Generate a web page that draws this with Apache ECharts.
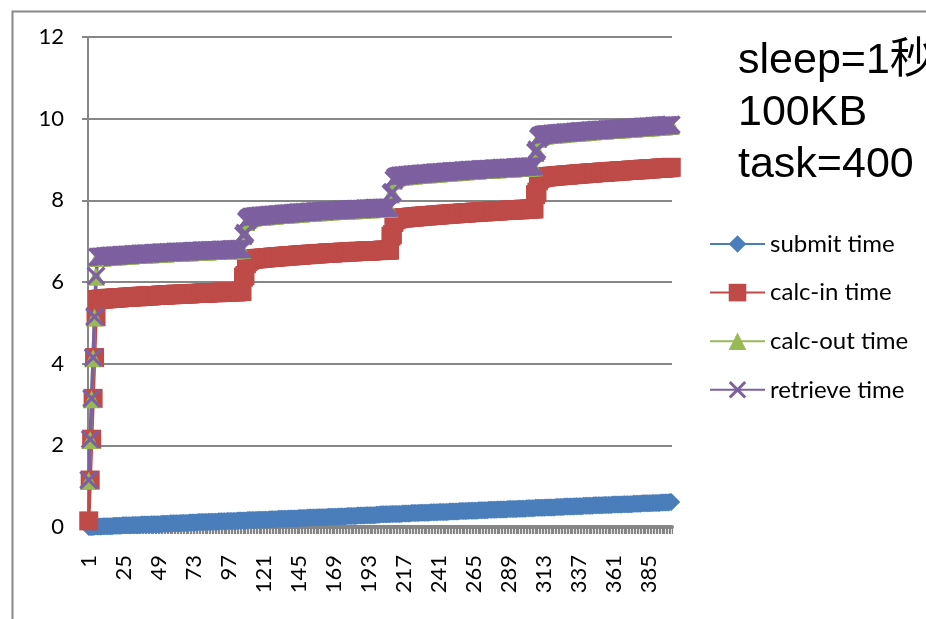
<!DOCTYPE html>
<html>
<head>
<meta charset="utf-8">
<script src="https://cdn.jsdelivr.net/npm/echarts@6/dist/echarts.min.js"></script>
<style>
  html, body { margin: 0; padding: 0; background: #fff; }
  #chart { width: 926px; height: 619px; }
</style>
</head>
<body>
<div id="chart"></div>
<script>
// Task numbers 1..400 on the category axis
const categories = Array.from({ length: 400 }, (_, i) => String(i + 1));
const tickLabels = ['1', '25', '49', '73', '97', '121', '145', '169', '193', '217',
  '241', '265', '289', '313', '337', '361', '385'];
const seriesNames = ['submit time', 'calc-in time', 'calc-out time', 'retrieve time'];
const noteLines = ['sleep=1秒', '100KB', 'task=400'];

// Elapsed seconds per task
const submitTime = [
  0.00,0.00,0.00,0.00,0.01,0.01,0.01,0.01,0.01,0.01,
  0.02,0.02,0.02,0.02,0.02,0.02,0.02,0.03,0.03,0.03,
  0.03,0.03,0.03,0.04,0.04,0.04,0.04,0.04,0.04,0.04,
  0.05,0.05,0.05,0.05,0.05,0.05,0.06,0.06,0.06,0.06,
  0.06,0.06,0.06,0.07,0.07,0.07,0.07,0.07,0.07,0.07,
  0.08,0.08,0.08,0.08,0.08,0.08,0.09,0.09,0.09,0.09,
  0.09,0.09,0.09,0.10,0.10,0.10,0.10,0.10,0.10,0.11,
  0.11,0.11,0.11,0.11,0.11,0.12,0.12,0.12,0.12,0.12,
  0.12,0.12,0.13,0.13,0.13,0.13,0.13,0.13,0.13,0.14,
  0.14,0.14,0.14,0.14,0.14,0.15,0.15,0.15,0.15,0.15,
  0.15,0.15,0.16,0.16,0.16,0.16,0.16,0.16,0.16,0.17,
  0.17,0.17,0.17,0.17,0.17,0.17,0.18,0.18,0.18,0.18,
  0.18,0.18,0.18,0.18,0.19,0.19,0.19,0.19,0.19,0.19,
  0.20,0.20,0.20,0.20,0.20,0.20,0.20,0.21,0.21,0.21,
  0.21,0.21,0.21,0.21,0.22,0.22,0.22,0.22,0.22,0.22,
  0.23,0.23,0.23,0.23,0.23,0.23,0.23,0.24,0.24,0.24,
  0.24,0.24,0.24,0.24,0.25,0.25,0.25,0.25,0.25,0.25,
  0.25,0.26,0.26,0.26,0.26,0.26,0.26,0.27,0.27,0.27,
  0.27,0.27,0.27,0.27,0.28,0.28,0.28,0.28,0.28,0.28,
  0.29,0.29,0.29,0.29,0.29,0.29,0.29,0.30,0.30,0.30,
  0.31,0.31,0.31,0.31,0.31,0.31,0.31,0.32,0.32,0.32,
  0.32,0.32,0.32,0.32,0.32,0.33,0.33,0.33,0.33,0.33,
  0.33,0.34,0.34,0.34,0.34,0.34,0.34,0.35,0.35,0.35,
  0.35,0.35,0.35,0.35,0.36,0.36,0.36,0.36,0.36,0.36,
  0.37,0.37,0.37,0.37,0.37,0.37,0.37,0.38,0.38,0.38,
  0.38,0.38,0.38,0.38,0.39,0.39,0.39,0.39,0.39,0.39,
  0.40,0.40,0.40,0.40,0.40,0.40,0.40,0.41,0.41,0.41,
  0.41,0.41,0.41,0.41,0.42,0.42,0.42,0.42,0.42,0.42,
  0.43,0.43,0.43,0.43,0.43,0.43,0.43,0.44,0.44,0.44,
  0.44,0.44,0.44,0.44,0.45,0.45,0.45,0.45,0.45,0.45,
  0.46,0.46,0.46,0.46,0.46,0.46,0.47,0.47,0.47,0.47,
  0.47,0.47,0.47,0.48,0.48,0.48,0.48,0.48,0.48,0.48,
  0.49,0.49,0.49,0.49,0.49,0.49,0.50,0.50,0.50,0.50,
  0.50,0.50,0.50,0.51,0.51,0.51,0.51,0.51,0.51,0.52,
  0.52,0.52,0.52,0.52,0.52,0.52,0.53,0.53,0.53,0.53,
  0.53,0.53,0.53,0.54,0.54,0.54,0.54,0.54,0.54,0.55,
  0.55,0.55,0.55,0.55,0.55,0.55,0.56,0.56,0.56,0.56,
  0.56,0.56,0.56,0.57,0.57,0.57,0.57,0.57,0.57,0.58,
  0.58,0.58,0.58,0.58,0.58,0.58,0.59,0.59,0.59,0.59,
  0.59,0.59,0.60,0.60,0.60,0.60,0.60,0.60,0.61,0.61
];

const calcInTime = [
  0.15,1.15,2.15,3.15,4.15,5.15,5.57,5.57,5.58,5.58,
  5.58,5.59,5.59,5.59,5.60,5.60,5.60,5.60,5.61,5.61,
  5.61,5.61,5.62,5.62,5.62,5.62,5.63,5.63,5.63,5.63,
  5.64,5.64,5.64,5.64,5.64,5.65,5.65,5.65,5.65,5.66,
  5.66,5.66,5.66,5.66,5.67,5.67,5.67,5.67,5.67,5.68,
  5.68,5.68,5.68,5.68,5.69,5.69,5.69,5.69,5.69,5.70,
  5.70,5.70,5.70,5.70,5.70,5.71,5.71,5.71,5.71,5.71,
  5.71,5.72,5.72,5.72,5.72,5.72,5.72,5.73,5.73,5.73,
  5.73,5.73,5.73,5.74,5.74,5.74,5.74,5.74,5.74,5.74,
  5.75,5.75,5.75,5.75,5.75,5.75,5.75,5.76,5.76,5.76,
  5.76,5.76,5.76,5.77,5.77,5.77,6.12,6.16,6.45,6.50,
  6.53,6.55,6.56,6.56,6.57,6.57,6.57,6.58,6.58,6.58,
  6.59,6.59,6.59,6.60,6.60,6.60,6.61,6.61,6.61,6.62,
  6.62,6.62,6.62,6.63,6.63,6.63,6.64,6.64,6.64,6.64,
  6.65,6.65,6.65,6.66,6.66,6.66,6.66,6.67,6.67,6.67,
  6.67,6.68,6.68,6.68,6.68,6.69,6.69,6.69,6.69,6.70,
  6.70,6.70,6.70,6.71,6.71,6.71,6.71,6.71,6.72,6.72,
  6.72,6.72,6.72,6.73,6.73,6.73,6.73,6.73,6.74,6.74,
  6.74,6.74,6.74,6.75,6.75,6.75,6.75,6.75,6.75,6.76,
  6.76,6.76,6.76,6.76,6.76,6.77,6.77,6.77,6.77,6.77,
  6.77,6.78,6.78,6.78,6.78,6.78,6.78,7.12,7.16,7.46,
  7.52,7.54,7.55,7.56,7.56,7.57,7.57,7.57,7.58,7.58,
  7.58,7.59,7.59,7.59,7.60,7.60,7.60,7.61,7.61,7.61,
  7.62,7.62,7.62,7.62,7.63,7.63,7.63,7.64,7.64,7.64,
  7.64,7.65,7.65,7.65,7.66,7.66,7.66,7.66,7.67,7.67,
  7.67,7.67,7.68,7.68,7.68,7.68,7.69,7.69,7.69,7.69,
  7.70,7.70,7.70,7.70,7.71,7.71,7.71,7.71,7.72,7.72,
  7.72,7.72,7.72,7.73,7.73,7.73,7.73,7.74,7.74,7.74,
  7.74,7.74,7.75,7.75,7.75,7.75,7.75,7.76,7.76,7.76,
  7.76,7.76,7.77,7.77,7.77,7.77,7.77,7.78,7.78,7.78,
  7.78,7.78,7.79,7.79,7.79,7.79,8.14,8.20,8.48,8.53,
  8.55,8.56,8.57,8.57,8.58,8.58,8.58,8.59,8.59,8.59,
  8.60,8.60,8.60,8.61,8.61,8.61,8.62,8.62,8.62,8.62,
  8.63,8.63,8.63,8.64,8.64,8.64,8.65,8.65,8.65,8.65,
  8.66,8.66,8.66,8.67,8.67,8.67,8.67,8.68,8.68,8.68,
  8.68,8.69,8.69,8.69,8.69,8.70,8.70,8.70,8.70,8.71,
  8.71,8.71,8.71,8.72,8.72,8.72,8.72,8.73,8.73,8.73,
  8.73,8.74,8.74,8.74,8.74,8.75,8.75,8.75,8.75,8.76,
  8.76,8.76,8.76,8.77,8.77,8.77,8.77,8.78,8.78,8.78,
  8.78,8.79,8.79,8.79,8.79,8.80,8.80,8.80,8.80,8.81
];

const calcOutTime = [
  1.13,2.13,3.13,4.13,5.13,6.13,6.59,6.59,6.60,6.60,
  6.60,6.61,6.61,6.61,6.62,6.62,6.62,6.62,6.63,6.63,
  6.63,6.63,6.64,6.64,6.64,6.64,6.65,6.65,6.65,6.65,
  6.66,6.66,6.66,6.66,6.66,6.67,6.67,6.67,6.67,6.68,
  6.68,6.68,6.68,6.68,6.69,6.69,6.69,6.69,6.69,6.70,
  6.70,6.70,6.70,6.70,6.71,6.71,6.71,6.71,6.71,6.72,
  6.72,6.72,6.72,6.72,6.72,6.73,6.73,6.73,6.73,6.73,
  6.73,6.74,6.74,6.74,6.74,6.74,6.74,6.75,6.75,6.75,
  6.75,6.75,6.75,6.76,6.76,6.76,6.76,6.76,6.76,6.76,
  6.77,6.77,6.77,6.77,6.77,6.77,6.77,6.78,6.78,6.78,
  6.78,6.78,6.78,6.79,6.79,6.79,7.12,7.18,7.47,7.52,
  7.55,7.57,7.58,7.58,7.59,7.59,7.59,7.60,7.60,7.60,
  7.61,7.61,7.61,7.62,7.62,7.62,7.63,7.63,7.63,7.64,
  7.64,7.64,7.64,7.65,7.65,7.65,7.66,7.66,7.66,7.66,
  7.67,7.67,7.67,7.68,7.68,7.68,7.68,7.69,7.69,7.69,
  7.69,7.70,7.70,7.70,7.70,7.71,7.71,7.71,7.71,7.72,
  7.72,7.72,7.72,7.73,7.73,7.73,7.73,7.73,7.74,7.74,
  7.74,7.74,7.74,7.75,7.75,7.75,7.75,7.75,7.76,7.76,
  7.76,7.76,7.76,7.77,7.77,7.77,7.77,7.77,7.77,7.78,
  7.78,7.78,7.78,7.78,7.78,7.79,7.79,7.79,7.79,7.79,
  7.79,7.80,7.80,7.80,7.80,7.80,7.80,8.14,8.18,8.48,
  8.54,8.56,8.57,8.58,8.58,8.59,8.59,8.59,8.60,8.60,
  8.60,8.61,8.61,8.61,8.62,8.62,8.62,8.63,8.63,8.63,
  8.64,8.64,8.64,8.64,8.65,8.65,8.65,8.66,8.66,8.66,
  8.66,8.67,8.67,8.67,8.68,8.68,8.68,8.68,8.69,8.69,
  8.69,8.69,8.70,8.70,8.70,8.70,8.71,8.71,8.71,8.71,
  8.72,8.72,8.72,8.72,8.73,8.73,8.73,8.73,8.74,8.74,
  8.74,8.74,8.74,8.75,8.75,8.75,8.75,8.76,8.76,8.76,
  8.76,8.76,8.77,8.77,8.77,8.77,8.77,8.78,8.78,8.78,
  8.78,8.78,8.79,8.79,8.79,8.79,8.79,8.80,8.80,8.80,
  8.80,8.80,8.81,8.81,8.81,8.81,9.16,9.22,9.50,9.55,
  9.57,9.58,9.59,9.59,9.60,9.60,9.60,9.61,9.61,9.61,
  9.62,9.62,9.62,9.63,9.63,9.63,9.64,9.64,9.64,9.64,
  9.65,9.65,9.65,9.66,9.66,9.66,9.67,9.67,9.67,9.67,
  9.68,9.68,9.68,9.69,9.69,9.69,9.69,9.70,9.70,9.70,
  9.70,9.71,9.71,9.71,9.71,9.72,9.72,9.72,9.72,9.73,
  9.73,9.73,9.73,9.74,9.74,9.74,9.74,9.75,9.75,9.75,
  9.75,9.76,9.76,9.76,9.76,9.77,9.77,9.77,9.77,9.78,
  9.78,9.78,9.78,9.79,9.79,9.79,9.79,9.80,9.80,9.80,
  9.80,9.81,9.81,9.81,9.81,9.82,9.82,9.82,9.82,9.83
];

const retrieveTime = [
  1.15,2.15,3.15,4.15,5.15,6.15,6.61,6.61,6.62,6.62,
  6.62,6.63,6.63,6.63,6.64,6.64,6.64,6.64,6.65,6.65,
  6.65,6.65,6.66,6.66,6.66,6.66,6.67,6.67,6.67,6.67,
  6.68,6.68,6.68,6.68,6.68,6.69,6.69,6.69,6.69,6.70,
  6.70,6.70,6.70,6.70,6.71,6.71,6.71,6.71,6.71,6.72,
  6.72,6.72,6.72,6.72,6.73,6.73,6.73,6.73,6.73,6.74,
  6.74,6.74,6.74,6.74,6.74,6.75,6.75,6.75,6.75,6.75,
  6.75,6.76,6.76,6.76,6.76,6.76,6.76,6.77,6.77,6.77,
  6.77,6.77,6.77,6.78,6.78,6.78,6.78,6.78,6.78,6.78,
  6.79,6.79,6.79,6.79,6.79,6.79,6.79,6.80,6.80,6.80,
  6.80,6.80,6.80,6.81,6.81,6.81,7.14,7.20,7.49,7.54,
  7.57,7.59,7.60,7.60,7.61,7.61,7.61,7.62,7.62,7.62,
  7.63,7.63,7.63,7.64,7.64,7.64,7.65,7.65,7.65,7.66,
  7.66,7.66,7.66,7.67,7.67,7.67,7.68,7.68,7.68,7.68,
  7.69,7.69,7.69,7.70,7.70,7.70,7.70,7.71,7.71,7.71,
  7.71,7.72,7.72,7.72,7.72,7.73,7.73,7.73,7.73,7.74,
  7.74,7.74,7.74,7.75,7.75,7.75,7.75,7.75,7.76,7.76,
  7.76,7.76,7.76,7.77,7.77,7.77,7.77,7.77,7.78,7.78,
  7.78,7.78,7.78,7.79,7.79,7.79,7.79,7.79,7.79,7.80,
  7.80,7.80,7.80,7.80,7.80,7.81,7.81,7.81,7.81,7.81,
  7.81,7.82,7.82,7.82,7.82,7.82,7.82,8.16,8.20,8.50,
  8.56,8.58,8.59,8.60,8.60,8.61,8.61,8.61,8.62,8.62,
  8.62,8.63,8.63,8.63,8.64,8.64,8.64,8.65,8.65,8.65,
  8.66,8.66,8.66,8.66,8.67,8.67,8.67,8.68,8.68,8.68,
  8.68,8.69,8.69,8.69,8.70,8.70,8.70,8.70,8.71,8.71,
  8.71,8.71,8.72,8.72,8.72,8.72,8.73,8.73,8.73,8.73,
  8.74,8.74,8.74,8.74,8.75,8.75,8.75,8.75,8.76,8.76,
  8.76,8.76,8.76,8.77,8.77,8.77,8.77,8.78,8.78,8.78,
  8.78,8.78,8.79,8.79,8.79,8.79,8.79,8.80,8.80,8.80,
  8.80,8.80,8.81,8.81,8.81,8.81,8.81,8.82,8.82,8.82,
  8.82,8.82,8.83,8.83,8.83,8.83,9.18,9.24,9.52,9.57,
  9.59,9.60,9.61,9.61,9.62,9.62,9.62,9.63,9.63,9.63,
  9.64,9.64,9.64,9.65,9.65,9.65,9.66,9.66,9.66,9.66,
  9.67,9.67,9.67,9.68,9.68,9.68,9.69,9.69,9.69,9.69,
  9.70,9.70,9.70,9.71,9.71,9.71,9.71,9.72,9.72,9.72,
  9.72,9.73,9.73,9.73,9.73,9.74,9.74,9.74,9.74,9.75,
  9.75,9.75,9.75,9.76,9.76,9.76,9.76,9.77,9.77,9.77,
  9.77,9.78,9.78,9.78,9.78,9.79,9.79,9.79,9.79,9.80,
  9.80,9.80,9.80,9.81,9.81,9.81,9.81,9.82,9.82,9.82,
  9.82,9.83,9.83,9.83,9.83,9.84,9.84,9.84,9.84,9.85
];

const AXIS_GRAY = '#868686';
const LABEL_FONT = 'Lato';
// Cross-shaped marker built as a filled outline
const CROSS = 'path://M0,1.2L1.2,0L5,3.8L8.8,0L10,1.2L6.2,5L10,8.8L8.8,10L5,6.2L1.2,10L0,8.8L3.8,5Z';

function lineSeries(name, data, color, symbol, size) {
  return {
    name: name,
    type: 'line',
    data: data,
    symbol: symbol,
    symbolSize: size,
    showSymbol: true,
    showAllSymbol: true,
    sampling: null,
    lineStyle: { color: color, width: 3.5 },
    itemStyle: { color: color, borderWidth: 0 },
    emphasis: { disabled: true }
  };
}

const chart = echarts.init(document.getElementById('chart'), null, { renderer: 'canvas' });

chart.setOption({
  animation: false,
  backgroundColor: '#ffffff',
  grid: { left: 88, right: 254, top: 37, bottom: 92, containLabel: false },
  xAxis: {
    type: 'category',
    data: categories,
    boundaryGap: true,
    z: 1,
    axisLine: { show: true, lineStyle: { color: AXIS_GRAY, width: 4 } },
    axisTick: { show: true, interval: 0, length: 7, lineStyle: { color: AXIS_GRAY, width: 1.2 } },
    axisLabel: {
      interval: (idx, value) => tickLabels.includes(value),
      rotate: 90,
      margin: 28,
      fontSize: 22,
      fontFamily: LABEL_FONT,
      color: '#000'
    },
    splitLine: { show: false }
  },
  yAxis: {
    type: 'value',
    min: 0,
    max: 12,
    interval: 2,
    axisLine: { show: true, lineStyle: { color: AXIS_GRAY, width: 2 } },
    axisTick: { show: true, length: 6, lineStyle: { color: AXIS_GRAY, width: 2 } },
    axisLabel: { margin: 24, fontSize: 22, fontFamily: LABEL_FONT, color: '#000' },
    splitLine: { show: true, lineStyle: { color: AXIS_GRAY, width: 2 } }
  },
  legend: {
    orient: 'vertical',
    left: 709,
    top: 232,
    padding: 0,
    itemWidth: 55,
    itemHeight: 22,
    itemGap: 24.6,
    data: seriesNames,
    textStyle: { fontSize: 24, fontFamily: LABEL_FONT, color: '#000' }
  },
  series: [
    lineSeries(seriesNames[0], submitTime, '#4A7EBB', 'diamond', 18),
    lineSeries(seriesNames[1], calcInTime, '#BE4B48', 'rect', 19),
    lineSeries(seriesNames[2], calcOutTime, '#98B954', 'triangle', 18),
    lineSeries(seriesNames[3], retrieveTime, '#7D60A0', CROSS, 19)
  ],
  graphic: [
    {
      type: 'rect',
      left: 10, top: 9,
      shape: { width: 960, height: 660 },
      style: { fill: 'none', stroke: '#898989', lineWidth: 2 },
      silent: true
    }
  ].concat(noteLines.map((line, i) => ({
    type: 'text',
    x: 738,
    y: 61 + i * 52,
    silent: true,
    style: {
      text: line,
      font: '43px "Liberation Sans", Arial, "Noto Sans CJK SC", sans-serif',
      fill: '#000',
      verticalAlign: 'middle',
      align: 'left'
    }
  })))
});
</script>
</body>
</html>
